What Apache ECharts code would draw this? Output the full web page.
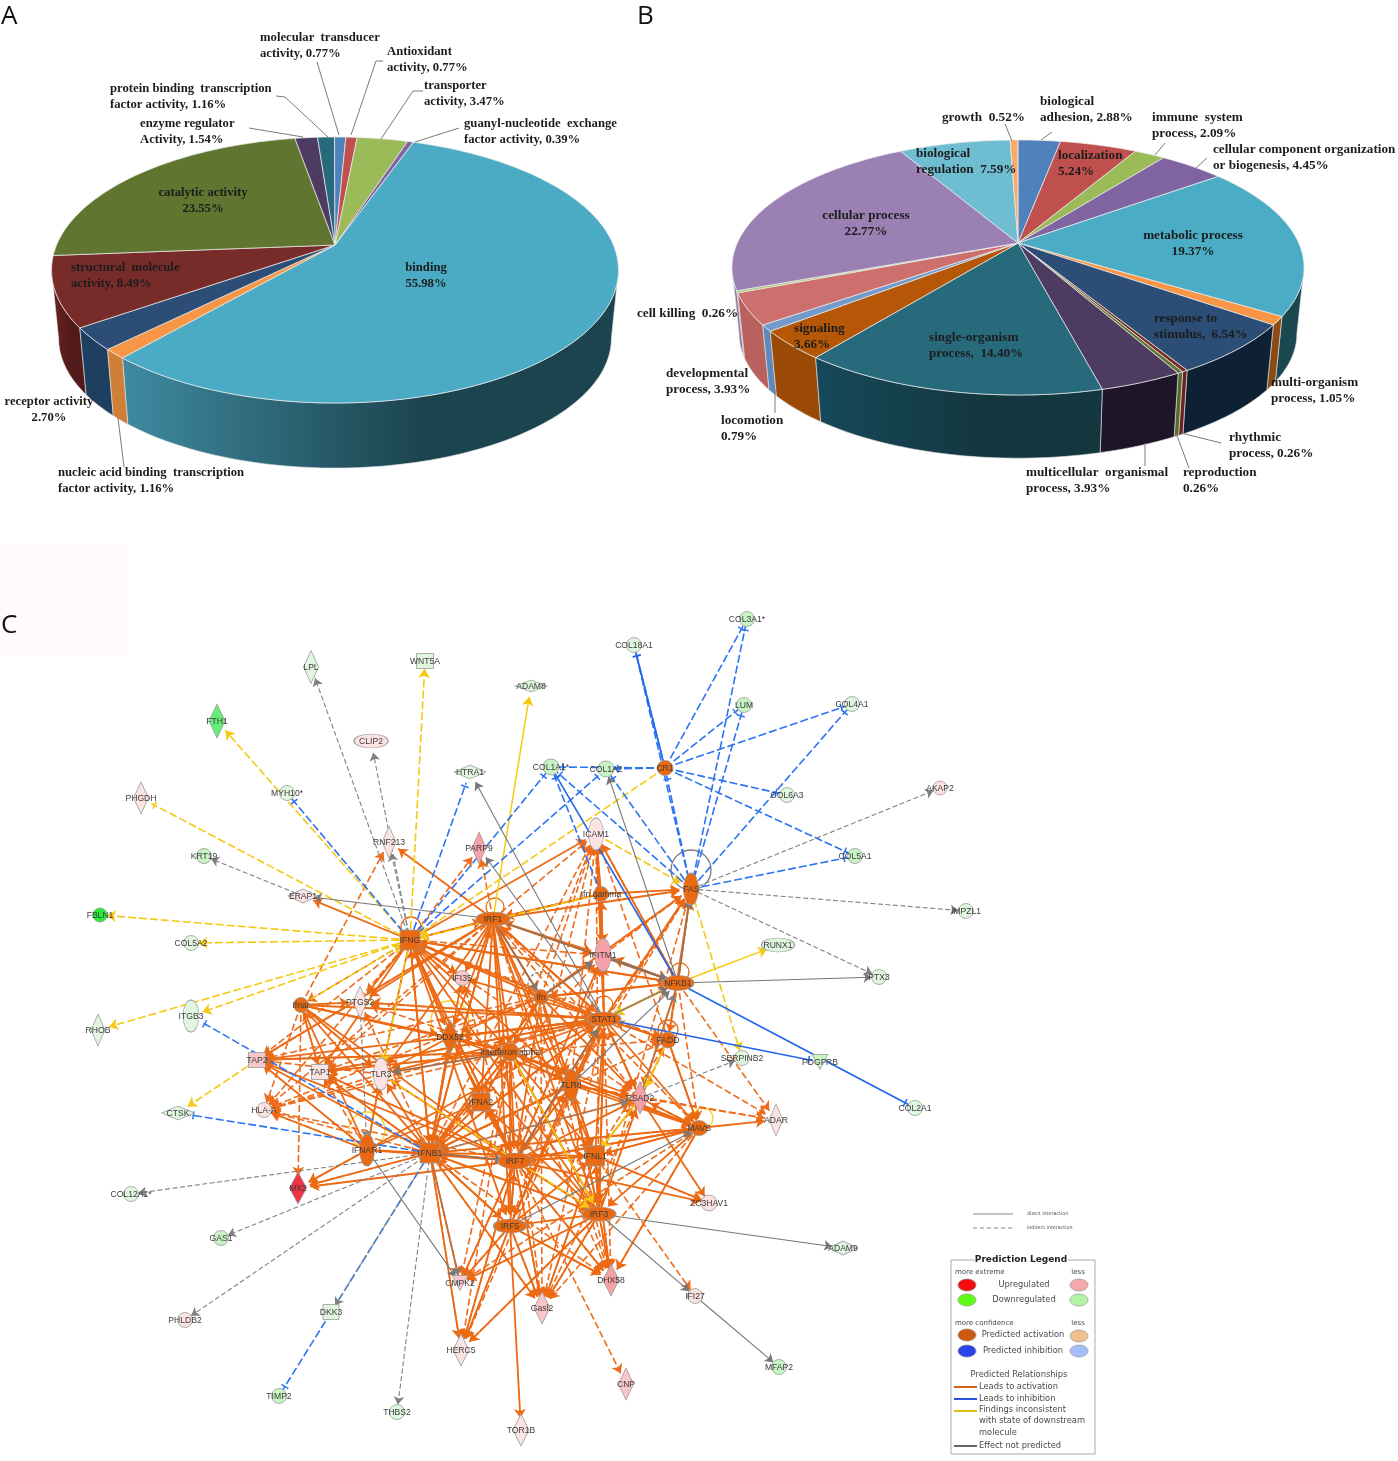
<!DOCTYPE html>
<html>
<head>
<meta charset="utf-8">
<script src="https://cdn.jsdelivr.net/npm/echarts@6/dist/echarts.min.js"></script>
<style>html,body{margin:0;padding:0;background:#fff}#c{width:1398px;height:1461px}</style>
</head>
<body>
<div id="c"></div>
<script>
// ---------- Panel A data ----------
const mfNames = ['binding','nucleic acid binding transcription factor activity','receptor activity','structural molecule activity','catalytic activity','enzyme regulator Activity','protein binding transcription factor activity','molecular transducer activity','Antioxidant activity','transporter activity','guanyl-nucleotide exchange factor activity'];
const mfValues = [55.98,1.16,2.70,8.49,23.55,1.54,1.16,0.77,0.77,3.47,0.39];
// ---------- Panel B data ----------
const bpNames = ['biological adhesion','localization','immune system process','cellular component organization or biogenesis','metabolic process','multi-organism process','response to stimulus','rhythmic process','reproduction','multicellular organismal process','single-organism process','signaling','locomotion','developmental process','cell killing','cellular process','biological regulation','growth'];
const bpValues = [2.88,5.24,2.09,4.45,19.37,1.05,6.54,0.26,0.26,3.93,14.40,3.66,0.79,3.93,0.26,22.77,7.59,0.52];

// ---------- Styles for the pies ----------
const mfColors = ['#4babc5','#f79646','#2c4d75','#772c2a','#5f7530','#4d3b62','#276a7c','#4f81bd','#c0504d','#9bbb59','#8064a2'];
const mfWalls = [['#3f8aa0','#1c444f'],'#cf7f36','#1f3f60',['#6a2222','#521a1a'],'#4a5a25','#3a2c4a','#1d5060','#3c6290','#90403c','#75903f','#604b7a'];
const bpColors = ['#4f81bd','#c0504d','#9bbb59','#8064a2','#4bacc6','#f79646','#2c4d75','#772c2a','#5f7530','#4d3b62','#276a7c','#b65708','#729aca','#cd6f6c','#afc97a','#9b80b4','#6fbdd1','#f9ab6b'];
const bpWalls = ['#3c6290','#90403c','#75903f','#604b7a','#1b4751','#8c4a14','#0e2033','#6b2321','#556a2b','#1f1529',['#17495a','#13363f'],'#9a4a05','#5e89bd','#b9615e','#8fa860','#8a74a5','#5a9db0','#d08a50'];
const pieA = {apexX:335,apexY:245,a:278.4,b:128.3,k:0.188,depth:69,shrink:0.975,start:19.4};
const pieB = {apexX:1018,apexY:243,a:280.7,b:122.8,k:0.192,depth:67,shrink:0.975,start:0};

const pieLabelsA = [
 [7,260,38,'left','molecular  transducer\nactivity, {v}%'],
 [8,387,52,'left','Antioxidant\nactivity, {v}%'],
 [6,110,89,'left','protein binding  transcription\nfactor activity, {v}%'],
 [9,424,86,'left','transporter\nactivity, {v}%'],
 [5,140,124,'left','enzyme regulator\nActivity, {v}%'],
 [10,464,124,'left','guanyl-nucleotide  exchange\nfactor activity, {v}%'],
 [4,203,193,'center','catalytic activity\n{v}%'],
 [3,71,268,'left','structural  molecule\nactivity, {v}%'],
 [0,426,268,'center','binding\n{v}%'],
 [2,49,402,'center','receptor activity\n{v}%'],
 [1,58,473,'left','nucleic acid binding  transcription\nfactor activity, {v}%']
];
const pieLabelsB = [
 [17,942,118,'left','growth  {v}%'],
 [0,1040,102,'left','biological\nadhesion, {v}%'],
 [2,1152,118,'left','immune  system\nprocess, {v}%'],
 [3,1213,150,'left','cellular component organization\nor biogenesis, {v}%'],
 [1,1058,156,'left','localization\n{v}%'],
 [16,916,154,'left','biological\nregulation  {v}%'],
 [15,866,216,'center','cellular process\n{v}%'],
 [4,1193,236,'center','metabolic process\n{v}%'],
 [6,1154,319,'left','response to\nstimulus,  {v}%'],
 [10,929,338,'left','single-organism\nprocess,  {v}%'],
 [11,794,329,'left','signaling\n{v}%'],
 [14,637,314,'left','cell killing  {v}%'],
 [13,666,374,'left','developmental\nprocess, {v}%'],
 [5,1271,383,'left','multi-organism\nprocess, {v}%'],
 [12,721,421,'left','locomotion\n{v}%'],
 [7,1229,438,'left','rhythmic\nprocess, {v}%'],
 [9,1026,473,'left','multicellular  organismal\nprocess, {v}%'],
 [8,1183,473,'left','reproduction\n{v}%']
];
const leaders = [
 [[118,418],[124,467]],[[249,128],[303,137]],[[276,96],[285,97],[328,137]],[[317,62],[339,135]],
 [[383,61],[376,61],[351,135]],[[423,91],[413,91],[381,139]],[[459,128],[415,142]],
 [[1005,124],[1012,141]],[[1041,140],[1052,132]],[[1155,155],[1165,143]],[[1196,168],[1207,158]],
 [[1181,433],[1221,443]],[[1176,433],[1189,468]],[[1145,443],[1145,466]],[[775,390],[775,413]]
];

// ---------- Panel C network ----------
const C = {o:'#e96a12',pg:'#e0f6de',g:'#c8f3c4',g2:'#66ee77',g3:'#22ee33',p:'#fbe3e3',p2:'#f9c6ca',p3:'#f6a0a8',r:'#ee3344'};
// name, x, y, shape (e ellipse, d diamond, r rect, v down triangle), w, h, colour key
const nodeTable = [
 ['FBLN1',100,915,'e',14,14,'g3'],['COL5A2',191,943,'e',15,15,'pg'],['KRT19',204,856,'e',15,15,'g'],['ERAP1',303,896,'d',30,14,'p'],
 ['PHGDH',141,798,'d',15,32,'p'],['MYH10*',287,793,'e',15,15,'pg'],['FTH1',217,721,'d',16,34,'g2'],['LPL',311,667,'d',15,33,'pg'],
 ['CLIP2',371,741,'e',34,14,'p'],['WNT5A',425,661,'r',17,15,'pg'],['ADAM8',531,686,'d',32,12,'pg'],['HTRA1',470,772,'d',32,14,'pg'],
 ['RNF213',389,842,'d',14,32,'p'],['PARP9',479,848,'d',14,32,'p3'],['COL1A1*',551,767,'e',16,16,'g'],['COL1A2',606,769,'e',16,16,'g'],
 ['CR1',665,768,'e',16,15,'o'],['COL18A1',634,645,'e',15,15,'pg'],['COL3A1*',747,619,'e',15,15,'g'],['LUM',744,705,'e',15,15,'g'],
 ['COL4A1',852,704,'e',15,15,'pg'],['COL6A3',787,795,'e',15,15,'pg'],['AKAP2',940,788,'e',14,14,'p'],['COL5A1',855,856,'e',15,15,'g'],
 ['IMPZL1',966,911,'e',15,15,'pg'],['ICAM1',596,834,'e',15,32,'p'],['FAS',691,889,'e',15,32,'o'],['Ifn gamma',601,894,'e',15,15,'o'],
 ['RUNX1',778,945,'e',33,14,'pg'],['PTX3',879,977,'e',15,15,'pg'],['IFITM1',603,955,'e',16,33,'p3'],['NFKB1',678,983,'e',32,15,'o'],
 ['IRF1',493,919,'e',34,14,'o'],['IFNG',410,940,'r',20,20,'o'],['IFI35',462,978,'e',15,15,'p2'],['Ifnar',301,1005,'e',15,15,'o'],
 ['PTGS2',360,1002,'d',14,32,'p'],['ITGB3',191,1016,'e',16,32,'pg'],['RHOB',98,1030,'d',14,32,'pg'],['Ifn',541,997,'e',15,15,'o'],
 ['STAT1',604,1019,'e',34,14,'o'],['DDX58',450,1037,'d',18,34,'o'],['FADD',668,1040,'e',16,16,'o'],['Interferon alpha',510,1052,'e',18,18,'o'],
 ['TAP2',257,1060,'r',17,15,'p2'],['TAP1',320,1072,'r',17,15,'p'],['TLR3',381,1074,'e',15,32,'p'],['SERPINB2',742,1058,'e',15,15,'pg'],
 ['PDGFRB',820,1062,'v',16,15,'g'],['TLR8',571,1085,'e',15,32,'o'],['IFNA2',481,1102,'r',18,18,'o'],['RSAD2',640,1098,'d',16,32,'p3'],
 ['HLA-A',264,1110,'e',15,15,'p'],['CTSK',178,1113,'d',33,14,'pg'],['ADAR',776,1120,'d',14,32,'p'],['COL2A1',915,1108,'e',15,15,'pg'],
 ['MAVS',699,1128,'e',18,15,'o'],['IFNAR1',367,1150,'e',15,32,'o'],['IFNB1',430,1153,'r',20,20,'o'],['IRF7',515,1161,'e',34,16,'o'],
 ['IFNL1',595,1156,'r',19,20,'o'],['MX2',298,1188,'d',17,32,'r'],['COL12A1*',131,1194,'e',15,15,'pg'],['ZC3HAV1',709,1203,'e',16,16,'p'],
 ['IRF3',599,1214,'e',34,14,'o'],['IRF5',510,1226,'e',33,14,'o'],['GAS1',221,1238,'e',15,15,'g'],['ADAM9',843,1248,'d',30,14,'pg'],
 ['CMPK2',460,1283,'v',16,15,'p2'],['DHX58',611,1280,'d',16,32,'p3'],['Gasl2',542,1308,'d',16,32,'p2'],['IFI27',695,1296,'e',15,15,'p'],
 ['PHLDB2',185,1320,'e',15,15,'p'],['DKK3',331,1312,'r',16,15,'pg'],['HERC5',461,1350,'d',16,32,'p'],['MFAP2',779,1367,'e',15,15,'g'],
 ['CNP',626,1384,'d',15,32,'p2'],['TIMP2',279,1396,'e',15,15,'g'],['THBS2',397,1412,'e',15,15,'pg'],['TOR1B',521,1430,'d',16,32,'p']
];
const alias = {IFa:'Interferon alpha',Ifng:'Ifn gamma'};
const orangeSolid = {
 IFNG:'IRF1 STAT1 Ifn IFI35 PTGS2 DDX58 TLR3 IRF7 IFNB1 IFa NFKB1 ICAM1 TLR8 IFNA2 IRF5 ERAP1 TAP1',
 IRF1:'RNF213 IFNG IFITM1 NFKB1 STAT1 IFI35 Ifn IRF7 IRF5 IRF3 TLR8 IFNB1 IFNA2 DDX58 PTGS2 TLR3 IFa FAS IFNL1 TAP2',
 Ifnar:'PTGS2 DDX58 IFa STAT1 TAP1 TLR3 IFNB1 IRF7',
 Ifn:'IFITM1 STAT1 IRF7 IFNB1 IRF1 IFNG DDX58 IFa TLR8 RSAD2 IFNL1 NFKB1 FAS',
 STAT1:'IFITM1 ICAM1 IRF1 FADD NFKB1 IFNG RSAD2 MAVS IRF7 IRF3 IFNB1 TLR8 DDX58 TLR3 TAP1 TAP2 PTGS2 IFI35 FAS',
 NFKB1:'ICAM1 FAS IFITM1 IRF1 IFNG STAT1 RSAD2 Ifn',
 IFa:'STAT1 IRF7 IFNB1 TLR8 TLR3 DDX58 IFNA2 RSAD2 IRF3 IRF5 MAVS IFNL1 TAP1 TAP2',
 IFNB1:'IRF7 STAT1 IFNG IRF1 TAP1 TLR3 IFNA2 IFa TLR8 TAP2 MX2 IRF3 IRF5 HERC5 Gasl2 IFNL1 DDX58 Ifn RSAD2 CMPK2 IFI35',
 IFNAR1:'IFNB1 HLA-A TAP2 MX2 IFNA2 STAT1 IRF7 Ifnar TLR3',
 IRF7:'IFNB1 IFNL1 IRF5 IRF3 MX2 TAP2 TAP1 HERC5 Gasl2 DHX58 DDX58 TLR3 STAT1 IFNA2 TLR8 ZC3HAV1 CMPK2 IFNG RSAD2 IFITM1 MAVS',
 IRF3:'Gasl2 DHX58 IFNB1 IRF7 IFNL1 RSAD2 TLR8 CMPK2 IRF5 STAT1 IFa IFNA2 HERC5 IFNG',
 IRF5:'DHX58 Gasl2 HERC5 CMPK2 IRF7 IFNL1 TOR1B IFNB1 TLR8 STAT1',
 IFNL1:'MAVS ZC3HAV1 IRF3 IRF7 STAT1 RSAD2 DHX58 Gasl2',
 TLR8:'IRF7 RSAD2 STAT1 IRF3 IFNL1 IRF5 IFNB1 MAVS',
 MAVS:'ADAR IRF3 IRF7 IFNB1 IFa DHX58 IFNL1',
 FADD:'MAVS STAT1 FAS',
 Ifng:'FAS IRF1 ICAM1 IFITM1',
 DDX58:'IRF7 IFNB1 IRF3 STAT1 MAVS IFa TLR3',
 RSAD2:'MAVS STAT1 ZC3HAV1',
 IFITM1:'NFKB1 ICAM1 Ifng'
};
const orangeDashed = {
 IFNG:'PARP9 TAP2 HLA-A PTGS2 RSAD2 IFITM1 Ifnar FADD',
 IRF1:'PARP9 ICAM1 HLA-A TAP1 TAP2 RSAD2 DHX58 MAVS',
 Ifnar:'RNF213 HLA-A TAP1 TLR3 MX2',
 Ifn:'ICAM1 FAS FADD HLA-A DHX58 Gasl2 TAP1 TAP2',
 STAT1:'FAS ICAM1 ADAR HLA-A DHX58 RSAD2 FADD HERC5 Gasl2 Ifng PTGS2 TAP1',
 NFKB1:'ADAR FAS ICAM1 MAVS RSAD2 IFITM1 FADD',
 IFa:'HLA-A TAP1 TAP2 PTGS2 ICAM1 FADD DHX58 Gasl2 CMPK2 HERC5',
 IFNB1:'HLA-A TAP1 MX2 PTGS2 ICAM1 HERC5 CMPK2 IFITM1 FADD DHX58 Gasl2',
 IFNAR1:'HLA-A TAP1 MX2 TLR3',
 IRF7:'CNP HERC5 CMPK2 Gasl2 DHX58 HLA-A FAS ICAM1 TAP1 IFI35 IFITM1',
 IRF3:'DHX58 Gasl2 HERC5 CMPK2 FAS RSAD2 ICAM1',
 IRF5:'HERC5 CMPK2 Gasl2 DHX58 IFITM1',
 IFNL1:'IFI27 ZC3HAV1 Gasl2 DHX58 FADD',
 TLR8:'FAS ICAM1 ADAR RSAD2',
 MAVS:'DHX58 Gasl2 RSAD2 CMPK2 IFNB1 ICAM1',
 RSAD2:'ADAR MAVS',
 TLR3:'HLA-A TAP2',
 FADD:'MAVS RSAD2 Gasl2',
 Ifng:'ICAM1 IRF1 IFITM1',
 IFITM1:'FAS ICAM1'
};
const yellowDashedArrow = {IFNG:'FBLN1 COL5A2 RHOB ITGB3 FTH1 WNT5A TLR3',TAP2:'CTSK',CR1:'IFNG',ICAM1:'FAS',FAS:'SERPINB2',Ifng:'IFNG',Ifnar:'IFNG',TLR3:'IRF3'};
const yellowDashedBar = {IFNG:'PHGDH'};
const yellowSolidArrow = {IRF1:'ADAM8',NFKB1:'RUNX1 STAT1',FADD:'RSAD2',RSAD2:'IFNL1',IFa:'IRF3'};
const blueDashedBar = {
 IFNG:'MYH10* HTRA1 COL1A1* COL1A2',
 CR1:'COL1A1* COL1A2 COL18A1 COL3A1* LUM COL4A1 COL6A3 COL5A1',
 FAS:'COL18A1 COL3A1* LUM COL4A1 COL5A1 CR1 COL1A1* COL1A2',
 IFNB1:'ITGB3 CTSK TIMP2',Ifng:'COL1A1*'
};
const blueSolidBar = {NFKB1:'COL1A1* COL2A1',STAT1:'PDGFRB',CR1:'COL18A1'};
const greyDashedArrow = {IFNG:'LPL CLIP2 RNF213',ERAP1:'KRT19',FAS:'AKAP2 IMPZL1 PTX3',IFNB1:'COL12A1* GAS1 PHLDB2 THBS2 DKK3 CMPK2 RSAD2',RSAD2:'SERPINB2 NFKB1',PTGS2:'IFNAR1'};
const greySolidArrow = {
 IRF1:'ERAP1 Ifn NFKB1',STAT1:'HTRA1 PARP9 NFKB1',NFKB1:'COL1A2 FAS PTX3',IRF3:'ADAM9 IFI27',IFI27:'MFAP2',
 IFa:'TLR3',IRF5:'MAVS',IRF7:'STAT1',TLR8:'NFKB1',Ifn:'IFITM1',IFITM1:'NFKB1',IFNAR1:'CMPK2',IFNB1:'IRF7'
};
// node, loop x, loop y, radius, colour, dashed
const selfLoops = [
 ['FAS',691,870,20,'#777',0],['IRF1',495,907,9,'#e96a12',0],['IFNG',411,927,10,'#e96a12',0],['NFKB1',680,972,9,'#e96a12',0],
 ['DDX58',450,1020,19,'#f5d327',0],['IFNAR1',367,1130,18,'#f5d327',0],['MAVS',703,1118,10,'#f5d327',0],['FADD',668,1030,10,'#e96a12',0],
 ['Ifn',541,985,13,'#777',1],['STAT1',604,1005,9,'#e96a12',0]
];

// ---------- Build ----------
const barSym = 'path://M0,0L0,0M14,14L14,14M3,10L11,10L11,11.5L3,11.5Z';
const links = [];
function addLinks(table, color, width, dash, end, size) {
  Object.keys(table).forEach(function (s) {
    table[s].split(' ').forEach(function (t) {
      links.push({
        source: alias[s] || s, target: alias[t] || t,
        symbol: ['none', end], symbolSize: [1, size],
        lineStyle: {color: color, width: width, type: dash ? dash : 'solid', opacity: 1, curveness: 0}
      });
    });
  });
}
addLinks(orangeDashed,'#ee6c1c',1.6,[7,3],'arrow',9);
addLinks(orangeSolid,'#ec6a14',1.8,null,'arrow',9);
addLinks(yellowDashedArrow,'#f5c911',1.6,[8,3],'arrow',9);
addLinks(yellowDashedBar,'#f5c911',1.6,[8,3],barSym,14);
addLinks(yellowSolidArrow,'#f5c911',1.5,null,'arrow',9);
addLinks(blueDashedBar,'#2b74f2',1.6,[8,3],barSym,14);
addLinks(blueSolidBar,'#1f66ee',1.6,null,barSym,14);
addLinks(greyDashedArrow,'#808080',1.1,[5,2.5],'arrow',8);
addLinks(greySolidArrow,'#777777',1.1,null,'arrow',8);

const shapeMap = {e:'circle',d:'diamond',r:'rect',v:'triangle'};
const graphNodes = nodeTable.map(function (n) {
  return {
    name: n[0], value: [n[1], n[2]], symbol: shapeMap[n[3]], symbolSize: [n[4], n[5]],
    symbolRotate: n[3] === 'v' ? 180 : 0,
    itemStyle: {color: C[n[6]], borderColor: '#9a9a9a', borderWidth: 0.8}
  };
});

function ptDeg(g, deg) {
  const t = deg * Math.PI / 180;
  const u = Math.sin(t), v = Math.cos(t), w = 1 + g.k * v;
  return [u / w, v / w];
}
function lower(g, p) { return [p[0] * g.shrink, p[1] * g.shrink - g.depth / g.b]; }
function cumulate(values) {
  let s = 0;
  return values.map(function (v) { const r = [s, s + v]; s += v; return r; });
}
function arcDeg(g, a, b) {
  const n = Math.max(2, Math.ceil((b - a) / 1.5));
  const out = [];
  for (let i = 0; i <= n; i++) out.push(ptDeg(g, a + (b - a) * i / n));
  return out;
}
function sliceDeg(g, range) {
  return [g.start + range[0] * 3.6, g.start + range[1] * 3.6];
}
function wallOrder(values, g) {
  const ranges = cumulate(values);
  return values.map(function (_, i) { return i; }).sort(function (x, y) {
    const mid = function (i) { const m = ((g.start + (ranges[i][0] + ranges[i][1]) * 1.8) % 360); return Math.abs(m - 180); };
    return mid(y) - mid(x);
  });
}
function wallFill(c) {
  if (typeof c === 'string') return c;
  return new echarts.graphic.LinearGradient(0, 0, 1, 0, [{offset: 0, color: c[0]}, {offset: 0.6, color: c[1]}, {offset: 1, color: c[1]}]);
}
function pieSeries(g, values, colors, walls, axisIndex) {
  const ranges = cumulate(values);
  const order = wallOrder(values, g);
  // the part of the rim that faces the viewer lies between these two bearings
  const rimFrom = Math.acos(-g.k) * 180 / Math.PI, rimTo = 360 - rimFrom;
  return [{
    type: 'custom', coordinateSystem: 'cartesian2d', xAxisIndex: axisIndex, yAxisIndex: axisIndex, silent: true, clip: false, z: 2,
    data: order.map(function (i) { return [i, values[i]]; }),
    renderItem: function (params, api) {
      const i = api.value(0);
      const d = sliceDeg(g, ranges[i]);
      const lo = Math.max(d[0], rimFrom), hi = Math.min(d[1], rimTo);
      if (lo >= hi) return null;
      const top = arcDeg(g, lo, hi);
      const bottom = top.map(function (p) { return lower(g, p); }).reverse();
      return {type: 'polygon', shape: {points: top.concat(bottom).map(function (p) { return api.coord(p); })},
        style: {fill: wallFill(walls[i]), stroke: 'rgba(225,225,225,0.7)', lineWidth: 0.9}};
    }
  }, {
    type: 'custom', coordinateSystem: 'cartesian2d', xAxisIndex: axisIndex, yAxisIndex: axisIndex, silent: true, clip: false, z: 3,
    data: values.map(function (v, i) { return [i, v]; }),
    renderItem: function (params, api) {
      const i = api.value(0);
      const d = sliceDeg(g, ranges[i]);
      const pts = [[0, 0]].concat(arcDeg(g, d[0], d[1]));
      return {type: 'polygon', shape: {points: pts.map(function (p) { return api.coord(p); })},
        style: {fill: colors[i], stroke: 'rgba(235,235,235,0.8)', lineWidth: 0.9}};
    }
  }];
}
function pieGrid(g) {
  return {left: g.apexX - 1.1 * g.a, width: 2.2 * g.a, top: g.apexY - g.b, height: 2.9 * g.b, containLabel: false};
}
function labelEls(list, values, size) {
  return list.map(function (l) {
    return {type: 'text', z: 10, silent: true,
      style: {text: l[4].replace('{v}', values[l[0]].toFixed(2)), x: l[1], y: l[2] - 8, align: l[3], verticalAlign: 'top',
        font: 'bold ' + size + 'px "Liberation Serif"', fill: '#1c1c1c', lineHeight: 16}};
  });
}
function txt(t, x, y, size, opt) {
  return Object.assign({type: 'text', z: 10, silent: true,
    style: Object.assign({text: t, x: x, y: y, align: 'left', verticalAlign: 'middle', font: size + 'px "DejaVu Sans"', fill: '#4a4a4a'}, opt || {})});
}
function oval(x, y, color) {
  return {type: 'ellipse', z: 10, silent: true, shape: {cx: x, cy: y, rx: 9, ry: 6}, style: {fill: color, stroke: '#999', lineWidth: 0.7}};
}
function seg(x1, y1, x2, dash, color, w) {
  return {type: 'line', z: 10, silent: true, shape: {x1: x1, y1: y1, x2: x2, y2: y1}, style: {stroke: color, lineWidth: w, lineDash: dash || null}};
}
const legendEls = [
  {type: 'rect', z: 9, silent: true, shape: {x: 951, y: 1260, width: 144, height: 194}, style: {fill: '#fff', stroke: '#aaa', lineWidth: 1}},
  {type: 'rect', z: 9, silent: true, shape: {x: 974, y: 1254, width: 94, height: 12}, style: {fill: '#fff'}},
  txt('Prediction Legend', 1021, 1260, 9, {align: 'center', font: 'bold 9px "DejaVu Sans"', fill: '#222'}),
  txt('more extreme', 955, 1272, 7),txt('less', 1078, 1272, 7, {align: 'center'}),
  oval(967, 1285, '#f50d0d'),oval(1079, 1285, '#f4a9a9'),txt('Upregulated', 1024, 1285, 8.3, {align: 'center'}),
  oval(967, 1300, '#5ffb17'),oval(1079, 1300, '#b4f2a6'),txt('Downregulated', 1024, 1300, 8.3, {align: 'center'}),
  txt('more confidence', 955, 1323, 7),txt('less', 1078, 1323, 7, {align: 'center'}),
  oval(967, 1335, '#cd5a0e'),oval(1079, 1336, '#f0c08c'),txt('Predicted activation', 1023, 1335, 8.3, {align: 'center'}),
  oval(967, 1351, '#2a44ea'),oval(1079, 1351, '#a4bdf7'),txt('Predicted inhibition', 1023, 1351, 8.3, {align: 'center'}),
  txt('Predicted Relationships', 1019, 1375, 8.3, {align: 'center'}),
  seg(954, 1387, 977, null, '#d4621a', 2),txt('Leads to activation', 979, 1387, 8.3),
  seg(954, 1399, 977, null, '#2a50e0', 2),txt('Leads to inhibition', 979, 1399, 8.3),
  seg(954, 1411, 977, null, '#e2bd10', 2),txt('Findings inconsistent', 979, 1410, 8.3),
  txt('with state of downstream', 979, 1421, 8.3),txt('molecule', 979, 1433, 8.3),
  seg(954, 1446, 977, null, '#666', 2),txt('Effect not predicted', 979, 1446, 8.3),
  seg(973, 1214, 1013, null, '#888', 1),txt('direct interaction', 1027, 1214, 4.8),
  seg(973, 1228, 1013, [4, 3], '#888', 1),txt('indirect interaction', 1027, 1228, 4.8)
];
const panelLetters = [['A',1,17],['B',637,17],['C',1,626]].map(function (l) {
  return txt(l[0], l[1], l[2], 26, {font: '26px "Open Sans"', fill: '#111'});
});
const leaderEls = leaders.map(function (pts) {
  return {type: 'polyline', z: 8, silent: true, shape: {points: pts}, style: {stroke: '#7a7a7a', lineWidth: 1, fill: null}};
});

const chart = echarts.init(document.getElementById('c'), null, {renderer: 'canvas'});
const hiddenX = function (i, a, b) { return {type: 'value', gridIndex: i, min: a, max: b, show: false}; };
const hiddenY = function (i, a, b, inv) { return {type: 'value', gridIndex: i, min: a, max: b, show: false, inverse: !!inv}; };
chart.setOption({
  animation: false,
  backgroundColor: '#fff',
  grid: [pieGrid(pieA), pieGrid(pieB), {left: 0, top: 0, width: 1398, height: 1461, containLabel: false}],
  xAxis: [hiddenX(0, -1.1, 1.1), hiddenX(1, -1.1, 1.1), hiddenX(2, 0, 1398)],
  yAxis: [hiddenY(0, -1.9, 1), hiddenY(1, -1.9, 1), hiddenY(2, 0, 1461, true)],
  series: pieSeries(pieA, mfValues, mfColors, mfWalls, 0).concat(pieSeries(pieB, bpValues, bpColors, bpWalls, 1)).concat([
    {
      type: 'custom', coordinateSystem: 'cartesian2d', xAxisIndex: 2, yAxisIndex: 2, silent: true, clip: false, z: 4,
      data: selfLoops.map(function (l) { return [l[1], l[2], l[3]]; }),
      renderItem: function (params, api) {
        const l = selfLoops[params.dataIndex];
        const p = api.coord([api.value(0), api.value(1)]);
        return {type: 'circle', shape: {cx: p[0], cy: p[1], r: api.value(2)},
          style: {fill: 'none', stroke: l[4], lineWidth: 1.3, lineDash: l[5] ? [3, 2] : null}};
      }
    },
    {
      type: 'graph', coordinateSystem: 'cartesian2d', xAxisIndex: 2, yAxisIndex: 2, layout: 'none', silent: true, z: 5,
      data: graphNodes, links: links, edgeSymbol: ['none', 'arrow'], edgeSymbolSize: 9,
      label: {show: true, position: 'inside', offset: [0, 1], formatter: '{b}', fontFamily: '"Liberation Sans"', fontSize: 8.6, color: '#3c3c3c'},
      lineStyle: {opacity: 1, curveness: 0}
    }
  ]),
  graphic: {elements: [
    {type: 'rect', z: 0, silent: true, shape: {x: 0, y: 545, width: 128, height: 110}, style: {fill: '#fffbfb'}}
  ].concat(panelLetters, leaderEls, labelEls(pieLabelsA, mfValues, 12.7), labelEls(pieLabelsB, bpValues, 13.2), legendEls)}
});
</script>
</body>
</html>
